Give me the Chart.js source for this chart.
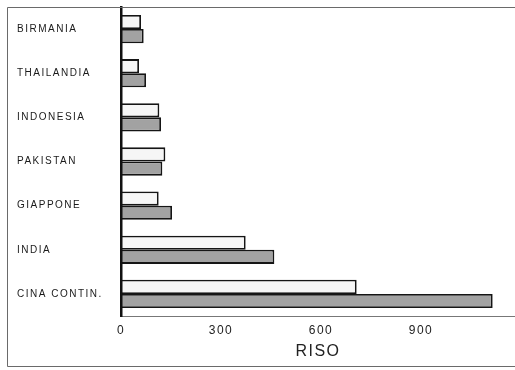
<!DOCTYPE html>
<html>
<head>
<meta charset="utf-8">
<script src="https://cdn.jsdelivr.net/npm/chart.js@4/dist/chart.umd.min.js"></script>
<style>
  html, body { margin: 0; padding: 0; background: #fff; }
  #wrap { width: 515px; height: 370px; position: relative; }
</style>
</head>
<body>
<div id="wrap"><canvas id="c" width="515" height="370"></canvas></div>
<script>
const categories = ['BIRMANIA', 'THAILANDIA', 'INDONESIA', 'PAKISTAN', 'GIAPPONE', 'INDIA', 'CINA CONTIN.'];
const seriesWhite = [60, 54, 115, 133, 113, 374, 707];
const seriesGray = [68, 75, 120, 124, 153, 460, 1115];
const xTicks = [0, 300, 600, 900];
const xTitle = 'RISO';

const framePlugin = {
  id: 'frame',
  beforeDraw(chart) {
    chart.ctx.letterSpacing = '1.5px';
  },
  afterDraw(chart) {
    const ctx = chart.ctx;
    ctx.save();
    ctx.strokeStyle = '#6a6a6a';
    ctx.lineWidth = 1;
    ctx.beginPath();
    ctx.moveTo(7.5, 7.5); ctx.lineTo(515, 7.5);
    ctx.moveTo(7.5, 7.5); ctx.lineTo(7.5, 366.5);
    ctx.moveTo(7.5, 366.5); ctx.lineTo(515, 366.5);
    ctx.stroke();
    ctx.restore();
  }
};

new Chart(document.getElementById('c'), {
  type: 'bar',
  data: {
    labels: categories,
    datasets: [
      { label: 'A', data: seriesWhite, backgroundColor: '#f6f6f6', borderColor: '#151515', borderWidth: 1.8 },
      { label: 'B', data: seriesGray, backgroundColor: '#a2a2a2', borderColor: '#151515', borderWidth: 1.8 }
    ]
  },
  options: {
    indexAxis: 'y',
    responsive: false,
    animation: false,
    layout: { padding: { left: 17, top: 7, right: 0, bottom: 0 } },
    datasets: { bar: { barPercentage: 1, categoryPercentage: 0.64 } },
    plugins: { legend: { display: false }, tooltip: { enabled: false } },
    scales: {
      x: {
        type: 'linear',
        min: 0,
        max: 1182,
        afterFit(s) { s.height = 54; },
        afterBuildTicks(s) { s.ticks = xTicks.map(v => ({ value: v })); },
        ticks: { includeBounds: false, stepSize: 300, padding: 7, color: '#222',
                 font: { family: 'Liberation Sans', size: 12 } },
        grid: { display: false, drawTicks: false },
        border: { display: true, color: '#777', width: 1 },
        title: { display: true, text: xTitle, color: '#222', align: 'center',
                 font: { family: 'Liberation Sans', size: 16 }, padding: { top: 0, bottom: 9 } }
      },
      y: {
        afterFit(s) { s.width = 104; },
        ticks: { crossAlign: 'far', color: '#1a1a1a', padding: 0,
                 font: { family: 'Liberation Sans', size: 10 } },
        grid: { display: false, drawTicks: false },
        border: { display: true, color: '#111', width: 2.5, z: 1 }
      }
    }
  },
  plugins: [framePlugin]
});
</script>
</body>
</html>
